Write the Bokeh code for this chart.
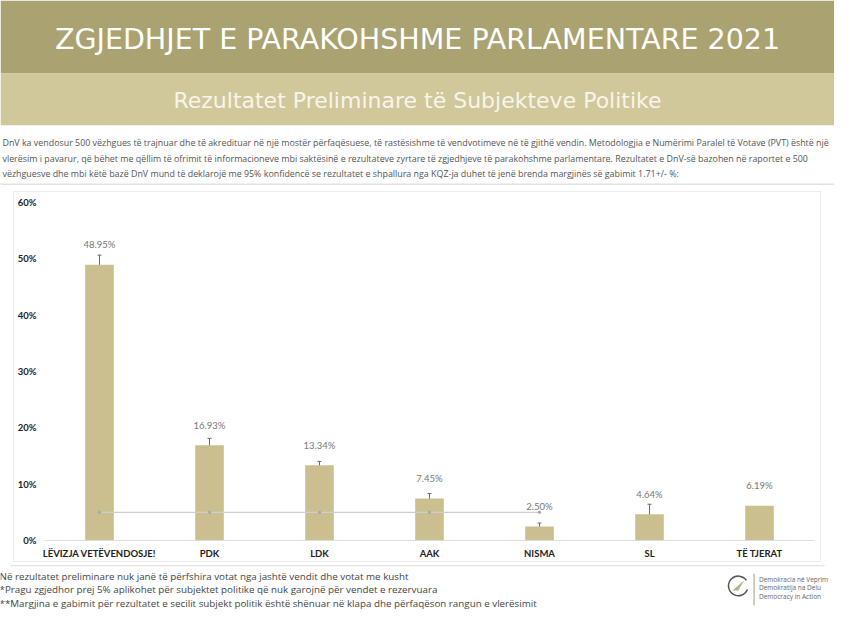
from bokeh.plotting import figure
from bokeh.layouts import column, row
from bokeh.models import ColumnDataSource, Whisker, TeeHead, Range1d, FixedTicker, PrintfTickFormatter, FactorRange, Spacer
from bokeh.core.properties import value
from bokeh.embed import file_html
from bokeh.resources import INLINE

title = "ZGJEDHJET E PARAKOHSHME PARLAMENTARE 2021"
subtitle = "Rezultatet Preliminare të Subjekteve Politike"
description = [
    "DnV ka vendosur 500 vëzhgues të trajnuar dhe të akredituar në një mostër përfaqësuese, të rastësishme të vendvotimeve në të gjithë vendin. Metodologjia e Numërimi Paralel të Votave (PVT) është një",
    "vlerësim i pavarur, që bëhet me qëllim të ofrimit të informacioneve mbi saktësinë e rezultateve zyrtare të zgjedhjeve të parakohshme parlamentare. Rezultatet e DnV-së bazohen në raportet e 500",
    "vëzhguesve dhe mbi këtë bazë DnV mund të deklarojë me 95% konfidencë se rezultatet e shpallura nga KQZ-ja duhet të jenë brenda margjinës së gabimit 1.71+/- %:",
]
notes = [
    "Në rezultatet preliminare nuk janë të përfshira votat nga jashtë vendit dhe votat me kusht",
    "*Pragu zgjedhor prej 5% aplikohet për subjektet politike që nuk garojnë për vendet e rezervuara",
    "**Margjina e gabimit për rezultatet e secilit subjekt politik është shënuar në klapa dhe përfaqëson rangun e vlerësimit",
]
logo_lines = ["Demokracia në Veprim", "Demokratija na Delu", "Democracy in Action"]

parties = ["LËVIZJA VETËVENDOSJE!", "PDK", "LDK", "AAK", "NISMA", "SL", "TË TJERAT"]
results = [48.95, 16.93, 13.34, 7.45, 2.50, 4.64, 6.19]
margins = [1.71, 1.2, 0.7, 0.9, 0.6, 1.8, None]
threshold = 5.0
threshold_parties = parties[:5]
y_ticks = [0, 10, 20, 30, 40, 50, 60]

W = 834
DARK = "#aaa270"
LIGHT = "#d0c79a"
BAR = "#cbbf8f"
OS = value("Open Sans")
DV = value("DejaVu Sans")


def blank(height, y0, y1):
    f = figure(width=W, height=height, x_range=Range1d(0, 850), y_range=Range1d(y1, y0),
               output_backend="svg", toolbar_location=None, min_border=0)
    f.axis.visible = False
    f.grid.visible = False
    f.outline_line_color = None
    f.background_fill_color = "white"
    f.border_fill_color = "white"
    return f


# Header
h = blank(185, 0, 190)
h.quad(left=[0], right=[850], top=[0], bottom=[75], color=DARK, line_color=None)
h.quad(left=[0], right=[850], top=[75], bottom=[128], color=LIGHT, line_color=None)
h.text(x=[425], y=[40], text=[title], text_color="white", text_font=DV,
       text_font_size="28.5px", text_align="center", text_baseline="middle")
h.text(x=[425], y=[103], text=[subtitle], text_color="#f8f5ea", text_font=DV,
       text_font_size="22px", text_align="center", text_baseline="middle")
h.text(x=[2] * 3, y=[146, 162, 178], text=description, text_color="#555555", text_font=OS,
       text_font_size="8.9px", text_align="left", text_baseline="middle")
h.line(x=[0, 850], y=[189, 189], line_color="#e2e2e2", line_width=2)

# Chart
p = figure(width=806, height=369, x_range=FactorRange(*parties), y_range=Range1d(0, 60),
           output_backend="svg", toolbar_location=None,
           min_border_left=30, min_border_right=6, min_border_top=10, min_border_bottom=21)
p.styles = {"outline": "1px solid #ececec"}
p.grid.visible = False
p.outline_line_color = None
p.vbar(x=parties, top=results, width=0.26, color=BAR, line_color=None)

wb = [pp for pp, m in zip(parties, margins) if m is not None]
wr = [r for r, m in zip(results, margins) if m is not None]
wm = [m for m in margins if m is not None]
src = ColumnDataSource(dict(base=wb, upper=[r + m for r, m in zip(wr, wm)],
                            lower=[r - m for r, m in zip(wr, wm)]))
p.add_layout(Whisker(base="base", upper="upper", lower="lower", source=src,
                     line_color="#6a6a6a", line_width=1,
                     upper_head=TeeHead(size=4, line_color="#6a6a6a", line_width=1),
                     lower_head=TeeHead(size=4, line_color="#6a6a6a", line_width=1)))

p.line(x=threshold_parties, y=[threshold] * len(threshold_parties), line_color="#cfcfcf", line_width=1.3)
p.scatter(x=threshold_parties, y=[threshold] * len(threshold_parties), size=2.5, color="#aaaaaa")

p.text(x=parties, y=results, text=[f"{r:.2f}%" for r in results], y_offset=-20,
       text_align="center", text_baseline="middle", text_font=value("Lato"),
       text_font_size="9.5px", text_color="#777777")

p.xaxis.axis_line_color = "#dddddd"
p.xaxis.major_tick_line_color = None
p.xaxis.minor_tick_line_color = None
p.xaxis.major_tick_out = 0
p.xaxis.major_label_standoff = 7
p.xaxis.major_label_text_font = "Lato"
p.xaxis.major_label_text_font_style = "bold"
p.xaxis.major_label_text_font_size = "9.5px"
p.xaxis.major_label_text_color = "#222222"

p.yaxis.ticker = FixedTicker(ticks=y_ticks)
p.yaxis.formatter = PrintfTickFormatter(format="%d%%")
p.yaxis.axis_line_color = None
p.yaxis.major_tick_line_color = None
p.yaxis.minor_tick_line_color = None
p.yaxis.major_tick_out = 0
p.yaxis.major_label_standoff = 8
p.yaxis.major_label_text_font = "Lato"
p.yaxis.major_label_text_font_style = "bold"
p.yaxis.major_label_text_font_size = "9.5px"
p.yaxis.major_label_text_color = "#222222"

# Footer
f = blank(54, 578, 636)
f.line(x=[10, 840], y=[579, 579], line_color="#e4e4e4", line_width=1.5)
f.text(x=[-1] * 3, y=[591, 605, 620], text=notes, text_color="#444444", text_font=OS,
       text_font_size="9.8px", text_align="left", text_baseline="middle")
f.arc(x=[752], y=[601], radius=10, start_angle=0.6, end_angle=5.9, line_color="#555555", line_width=1.5)
f.patch(x=[746, 758, 752], y=[606, 595, 606], color="#b9b089", line_color=None)
f.line(x=[768, 768], y=[588, 622], line_color="#b5ad85", line_width=1.2)
f.text(x=[773] * 3, y=[594, 603, 612], text=logo_lines, text_color="#666666", text_font=OS,
       text_font_size="6.5px", text_align="left", text_baseline="middle")

mid = row(Spacer(width=14, height=369), p, Spacer(width=14, height=369), spacing=0)
layout = column(h, Spacer(width=W, height=7), mid, Spacer(width=W, height=3), f, spacing=0)
open("out.html", "w").write(file_html(layout, INLINE))
